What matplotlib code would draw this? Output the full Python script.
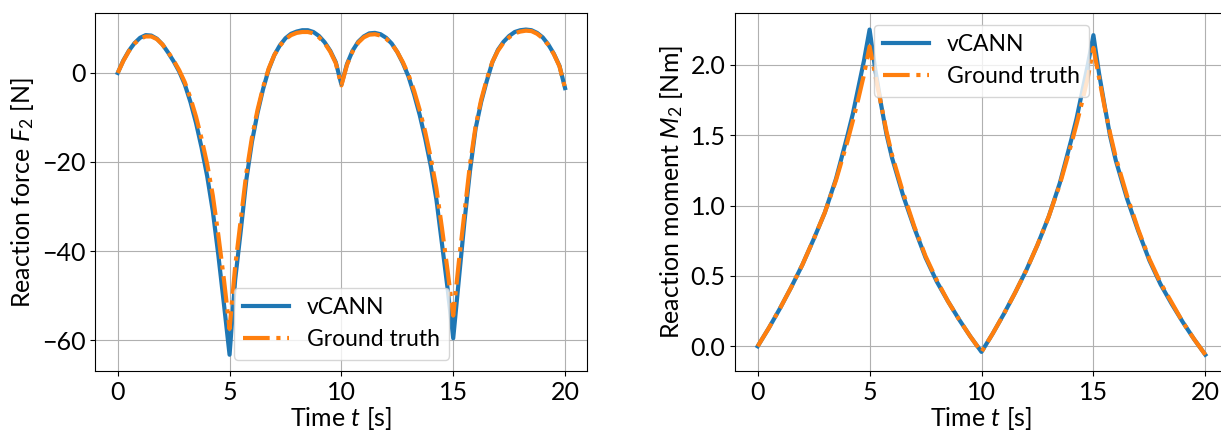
import numpy as np
import matplotlib
matplotlib.use('Agg')
import matplotlib.pyplot as plt

plt.rcParams['font.family'] = ['Lato', 'DejaVu Sans']
plt.rcParams['mathtext.fontset'] = 'custom'
plt.rcParams['mathtext.rm'] = 'Lato'
plt.rcParams['mathtext.it'] = 'Lato:italic'
plt.rcParams['font.size'] = 18

# reaction force, sampled every 0.25 s
t_force = np.arange(0, 20.01, 0.25)
force_vcann = [0.0, 2.8, 5.0, 6.7, 7.9, 8.5, 8.4, 7.7, 6.4, 4.6, 2.6, 0.3, -2.6, -6.5, -11.2, -16.8, -23.2, -31.0, -41.0, -52.0,
               -63.3, -46.5, -35.5, -24.0, -15.5, -9.0, -3.6, 0.8, 4.0, 6.2, 7.8, 8.8, 9.3, 9.6, 9.6, 9.2, 8.3, 6.9, 5.0, 2.4,
               -2.6, 2.0, 5.0, 7.0, 8.2, 8.9, 9.0, 8.7, 7.9, 6.6, 4.7, 2.2, -0.8, -4.8, -9.4, -14.8, -21.0, -28.5, -38.5, -48.5,
               -59.6, -46.5, -33.5, -22.0, -12.5, -6.5, -1.8, 2.4, 5.2, 7.0, 8.3, 9.2, 9.6, 9.75, 9.6, 9.0, 8.0, 6.4, 4.3, 1.6,
               -3.4]
force_true = [0.0, 2.7, 4.9, 6.6, 7.7, 8.2, 8.2, 7.6, 6.4, 4.7, 2.8, 0.6, -2.1, -5.6, -9.8, -14.8, -20.5, -27.5, -36.5, -46.5,
              -57.5, -43.5, -33.0, -22.5, -14.5, -8.3, -3.2, 1.0, 4.0, 6.1, 7.6, 8.5, 9.0, 9.2, 9.2, 8.9, 8.0, 6.7, 4.8, 2.2,
              -2.8, 1.8, 4.8, 6.8, 8.0, 8.6, 8.7, 8.4, 7.7, 6.5, 4.7, 2.4, -0.4, -4.0, -8.3, -13.3, -19.2, -26.0, -35.0, -44.5,
              -54.5, -42.5, -31.5, -20.5, -12.0, -6.0, -1.4, 2.5, 5.0, 6.8, 8.0, 8.9, 9.3, 9.5, 9.4, 8.8, 7.8, 6.3, 4.2, 1.5,
              -3.4]

# reaction moment
t_moment = [0.0, 0.5, 1.0, 1.5, 2.0, 2.5, 3.0, 3.5, 4.0, 4.25, 4.5, 4.75, 5.0, 5.25, 5.5, 5.75, 6.0, 6.5, 7.0, 7.5, 8.0, 8.5, 9.0, 9.5,
            10.0, 10.5, 11.0, 11.5, 12.0, 12.5, 13.0, 13.5, 14.0, 14.25, 14.5, 14.75, 15.0, 15.25, 15.5, 15.75, 16.0, 16.5, 17.0, 17.5, 18.0, 18.5, 19.0, 19.5,
            20.0]
moment_vcann = [0.0, 0.13, 0.27, 0.42, 0.58, 0.76, 0.95, 1.19, 1.49, 1.65, 1.84, 2.03, 2.25, 1.97, 1.73, 1.51, 1.34, 1.07, 0.84, 0.63, 0.46, 0.32, 0.19, 0.07,
                -0.04, 0.09, 0.23, 0.38, 0.54, 0.72, 0.92, 1.16, 1.46, 1.62, 1.81, 2.00, 2.21, 1.94, 1.71, 1.49, 1.32, 1.05, 0.82, 0.61, 0.44, 0.30, 0.17, 0.05,
                -0.06]
moment_true = [0.0, 0.13, 0.27, 0.42, 0.58, 0.76, 0.95, 1.18, 1.45, 1.60, 1.76, 1.93, 2.13, 1.93, 1.73, 1.53, 1.36, 1.09, 0.85, 0.64, 0.47, 0.32, 0.19, 0.07,
               -0.04, 0.09, 0.23, 0.38, 0.54, 0.72, 0.92, 1.15, 1.43, 1.58, 1.74, 1.91, 2.12, 1.91, 1.70, 1.51, 1.34, 1.07, 0.83, 0.62, 0.45, 0.31, 0.17, 0.05,
               -0.06]

fig = plt.figure(figsize=(12.21, 4.33), dpi=100)
ax1 = fig.add_axes([0.0781, 0.1432, 0.4030, 0.8261])
ax2 = fig.add_axes([0.6022, 0.1432, 0.4033, 0.8261])

ax1.plot(t_force, force_vcann, color='tab:blue', lw=3, label='vCANN')
ax1.plot(t_force, force_true, color='tab:orange', lw=3, ls='-.', label='Ground truth')
ax1.set_xlabel('Time $t$ [s]', labelpad=1)
ax1.set_ylabel('Reaction force $F_2$ [N]')
ax1.set_xticks([0, 5, 10, 15, 20])
ax1.set_yticks([0, -20, -40, -60])
ax1.grid(True)
ax1.legend(loc='lower center', fontsize=16.5)

ax2.plot(t_moment, moment_vcann, color='tab:blue', lw=3, label='vCANN')
ax2.plot(t_moment, moment_true, color='tab:orange', lw=3, ls='-.', label='Ground truth')
ax2.set_xlabel('Time $t$ [s]', labelpad=1)
ax2.set_ylabel('Reaction moment $M_2$ [Nm]')
ax2.set_xticks([0, 5, 10, 15, 20])
ax2.grid(True)
ax2.legend(loc='upper center', fontsize=16.5)

fig.savefig('out.png', dpi=100)
